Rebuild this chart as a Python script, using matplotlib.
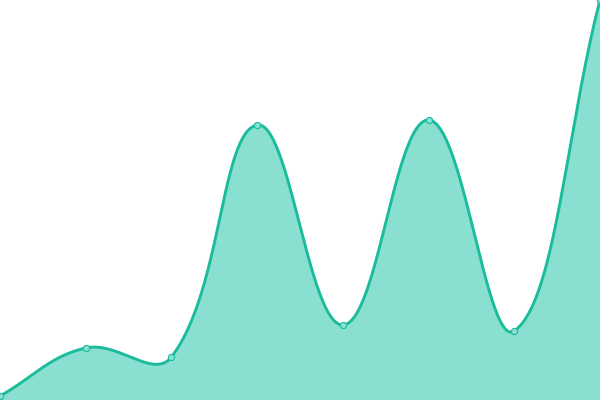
import matplotlib
matplotlib.use("Agg")
import matplotlib.pyplot as plt
import numpy as np

# data
labels = ["1", "2", "3", "4", "5", "6", "7", "8"]
values = [1, 13, 10.75, 68.75, 18.75, 70, 17.25, 100]

line_color = "#1abc9c"
fill_color = "#8ae0d0"

W, H = 600, 400
y_max = 100
tension = 0.4


def spline_curve(px, py):
    # cubic control points, same idea as chart.js splineCurve
    n = len(px)
    cp_prev = []
    cp_next = []
    for i in range(n):
        p0 = (px[max(i - 1, 0)], py[max(i - 1, 0)])
        p1 = (px[i], py[i])
        p2 = (px[min(i + 1, n - 1)], py[min(i + 1, n - 1)])
        d01 = np.hypot(p1[0] - p0[0], p1[1] - p0[1])
        d12 = np.hypot(p2[0] - p1[0], p2[1] - p1[1])
        tot = d01 + d12
        s01 = d01 / tot if tot else 0
        s12 = d12 / tot if tot else 0
        fa = tension * s01
        fb = tension * s12
        cp_prev.append((p1[0] - fa * (p2[0] - p0[0]), p1[1] - fa * (p2[1] - p0[1])))
        cp_next.append((p1[0] + fb * (p2[0] - p0[0]), p1[1] + fb * (p2[1] - p0[1])))
    clamp = lambda c: (min(max(c[0], 0), W), min(max(c[1], 0), H))
    cp_prev = [clamp(c) for c in cp_prev]
    cp_next = [clamp(c) for c in cp_next]

    xs, ys = [], []
    t = np.linspace(0, 1, 60)
    for i in range(n - 1):
        a = np.array([px[i], py[i]])
        b = np.array(cp_next[i])
        c = np.array(cp_prev[i + 1])
        d = np.array([px[i + 1], py[i + 1]])
        pts = ((1 - t) ** 3)[:, None] * a + (3 * (1 - t) ** 2 * t)[:, None] * b \
            + (3 * (1 - t) * t ** 2)[:, None] * c + (t ** 3)[:, None] * d
        xs.extend(pts[:, 0])
        ys.extend(pts[:, 1])
    return np.array(xs), np.array(ys)


n = len(values)
px = np.array([i * W / (n - 1) for i in range(n)])
py = np.array([H * (1 - v / y_max) for v in values])
sx, sy = spline_curve(px, py)

# back to data coords
cx = sx / W * (n - 1)
cy = (1 - sy / H) * y_max

fig = plt.figure(figsize=(6, 4), dpi=100)
ax = fig.add_axes([0, 0, 1, 1])
ax.fill_between(cx, cy, 0, color=fill_color, lw=0)
ax.plot(cx, cy, color=line_color, lw=2.1, solid_capstyle="round")
ax.plot(range(n), values, "o", ms=4.5, mfc=fill_color, mec=line_color, mew=0.8,
        clip_on=True)
ax.set_xlim(0, n - 1)
ax.set_ylim(0, y_max)
ax.axis("off")

fig.savefig("out.png", dpi=100)
